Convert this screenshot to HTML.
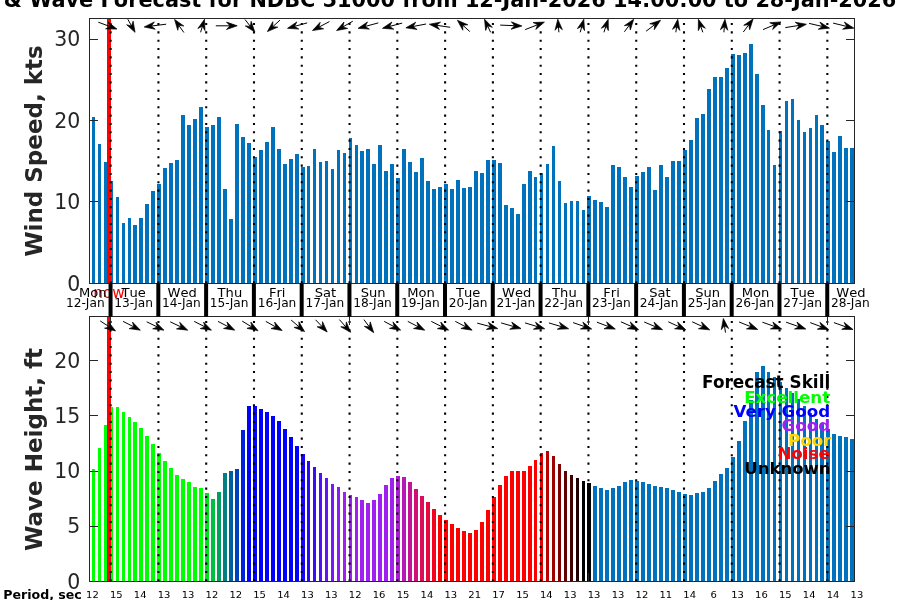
<!DOCTYPE html>
<html lang="en"><head><meta charset="utf-8"><title>Wind &amp; Wave Forecast for NDBC 51000</title>
<style>html,body{margin:0;padding:0;background:#fff;overflow:hidden}svg{display:block}text{font-family:"DejaVu Sans","Liberation Sans",sans-serif}.b{font-weight:bold}.tk{font-size:20.5px;fill:#262626;text-anchor:end}.dl{fill:#000;text-anchor:middle;font-kerning:none}.pd{font-size:10px;fill:#000;text-anchor:middle}.lg{font-size:16.7px;font-weight:bold;text-anchor:end}</style></head><body>
<svg width="900" height="600" viewBox="0 0 900 600">
<rect width="900" height="600" fill="#fff"/>
<defs><clipPath id="c1"><rect x="90" y="19" width="764" height="264"/></clipPath><clipPath id="c2"><rect x="90" y="317" width="764" height="264"/></clipPath></defs>
<text class="b" x="471.9" y="7.4" font-size="20.83" text-anchor="middle" fill="#000">Wind &amp; Wave Forecast for NDBC 51000 from 12-Jan-2026 14:00:00 to 28-Jan-2026 14:00:00</text>
<g shape-rendering="crispEdges" clip-path="url(#c1)">
<rect x="92" y="117" width="3" height="166" fill="#0072BD"/>
<rect x="98" y="144" width="3" height="139" fill="#0072BD"/>
<rect x="104" y="162" width="3" height="121" fill="#0072BD"/>
<rect x="110" y="181" width="3" height="102" fill="#0072BD"/>
<rect x="116" y="197" width="3" height="86" fill="#0072BD"/>
<rect x="122" y="223" width="3" height="60" fill="#0072BD"/>
<rect x="128" y="218" width="3" height="65" fill="#0072BD"/>
<rect x="133" y="225" width="4" height="58" fill="#0072BD"/>
<rect x="139" y="218" width="4" height="65" fill="#0072BD"/>
<rect x="145" y="204" width="4" height="79" fill="#0072BD"/>
<rect x="151" y="191" width="4" height="92" fill="#0072BD"/>
<rect x="157" y="184" width="4" height="99" fill="#0072BD"/>
<rect x="163" y="168" width="4" height="115" fill="#0072BD"/>
<rect x="169" y="163" width="4" height="120" fill="#0072BD"/>
<rect x="175" y="160" width="4" height="123" fill="#0072BD"/>
<rect x="181" y="115" width="4" height="168" fill="#0072BD"/>
<rect x="187" y="125" width="4" height="158" fill="#0072BD"/>
<rect x="193" y="119" width="4" height="164" fill="#0072BD"/>
<rect x="199" y="107" width="4" height="176" fill="#0072BD"/>
<rect x="205" y="127" width="4" height="156" fill="#0072BD"/>
<rect x="211" y="125" width="4" height="158" fill="#0072BD"/>
<rect x="217" y="117" width="4" height="166" fill="#0072BD"/>
<rect x="223" y="189" width="4" height="94" fill="#0072BD"/>
<rect x="229" y="219" width="4" height="64" fill="#0072BD"/>
<rect x="235" y="124" width="4" height="159" fill="#0072BD"/>
<rect x="241" y="137" width="4" height="146" fill="#0072BD"/>
<rect x="247" y="143" width="4" height="140" fill="#0072BD"/>
<rect x="253" y="157" width="4" height="126" fill="#0072BD"/>
<rect x="259" y="150" width="4" height="133" fill="#0072BD"/>
<rect x="265" y="142" width="4" height="141" fill="#0072BD"/>
<rect x="271" y="127" width="4" height="156" fill="#0072BD"/>
<rect x="277" y="149" width="4" height="134" fill="#0072BD"/>
<rect x="283" y="164" width="4" height="119" fill="#0072BD"/>
<rect x="289" y="159" width="4" height="124" fill="#0072BD"/>
<rect x="295" y="154" width="4" height="129" fill="#0072BD"/>
<rect x="301" y="167" width="4" height="116" fill="#0072BD"/>
<rect x="307" y="166" width="3" height="117" fill="#0072BD"/>
<rect x="313" y="149" width="3" height="134" fill="#0072BD"/>
<rect x="319" y="162" width="3" height="121" fill="#0072BD"/>
<rect x="325" y="161" width="3" height="122" fill="#0072BD"/>
<rect x="331" y="169" width="3" height="114" fill="#0072BD"/>
<rect x="337" y="150" width="3" height="133" fill="#0072BD"/>
<rect x="343" y="153" width="3" height="130" fill="#0072BD"/>
<rect x="349" y="138" width="3" height="145" fill="#0072BD"/>
<rect x="355" y="145" width="3" height="138" fill="#0072BD"/>
<rect x="360" y="151" width="4" height="132" fill="#0072BD"/>
<rect x="366" y="149" width="4" height="134" fill="#0072BD"/>
<rect x="372" y="164" width="4" height="119" fill="#0072BD"/>
<rect x="378" y="145" width="4" height="138" fill="#0072BD"/>
<rect x="384" y="171" width="4" height="112" fill="#0072BD"/>
<rect x="390" y="164" width="4" height="119" fill="#0072BD"/>
<rect x="396" y="178" width="4" height="105" fill="#0072BD"/>
<rect x="402" y="149" width="4" height="134" fill="#0072BD"/>
<rect x="408" y="162" width="4" height="121" fill="#0072BD"/>
<rect x="414" y="172" width="4" height="111" fill="#0072BD"/>
<rect x="420" y="158" width="4" height="125" fill="#0072BD"/>
<rect x="426" y="181" width="4" height="102" fill="#0072BD"/>
<rect x="432" y="189" width="4" height="94" fill="#0072BD"/>
<rect x="438" y="187" width="4" height="96" fill="#0072BD"/>
<rect x="444" y="184" width="4" height="99" fill="#0072BD"/>
<rect x="450" y="189" width="4" height="94" fill="#0072BD"/>
<rect x="456" y="180" width="4" height="103" fill="#0072BD"/>
<rect x="462" y="188" width="4" height="95" fill="#0072BD"/>
<rect x="468" y="187" width="4" height="96" fill="#0072BD"/>
<rect x="474" y="171" width="4" height="112" fill="#0072BD"/>
<rect x="480" y="173" width="4" height="110" fill="#0072BD"/>
<rect x="486" y="160" width="4" height="123" fill="#0072BD"/>
<rect x="492" y="160" width="4" height="123" fill="#0072BD"/>
<rect x="498" y="163" width="4" height="120" fill="#0072BD"/>
<rect x="504" y="205" width="4" height="78" fill="#0072BD"/>
<rect x="510" y="208" width="4" height="75" fill="#0072BD"/>
<rect x="516" y="214" width="4" height="69" fill="#0072BD"/>
<rect x="522" y="184" width="4" height="99" fill="#0072BD"/>
<rect x="528" y="171" width="4" height="112" fill="#0072BD"/>
<rect x="534" y="177" width="3" height="106" fill="#0072BD"/>
<rect x="540" y="173" width="3" height="110" fill="#0072BD"/>
<rect x="546" y="164" width="3" height="119" fill="#0072BD"/>
<rect x="552" y="146" width="3" height="137" fill="#0072BD"/>
<rect x="558" y="181" width="3" height="102" fill="#0072BD"/>
<rect x="564" y="203" width="3" height="80" fill="#0072BD"/>
<rect x="570" y="201" width="3" height="82" fill="#0072BD"/>
<rect x="576" y="201" width="3" height="82" fill="#0072BD"/>
<rect x="582" y="210" width="3" height="73" fill="#0072BD"/>
<rect x="587" y="196" width="4" height="87" fill="#0072BD"/>
<rect x="593" y="200" width="4" height="83" fill="#0072BD"/>
<rect x="599" y="202" width="4" height="81" fill="#0072BD"/>
<rect x="605" y="207" width="4" height="76" fill="#0072BD"/>
<rect x="611" y="165" width="4" height="118" fill="#0072BD"/>
<rect x="617" y="167" width="4" height="116" fill="#0072BD"/>
<rect x="623" y="177" width="4" height="106" fill="#0072BD"/>
<rect x="629" y="187" width="4" height="96" fill="#0072BD"/>
<rect x="635" y="176" width="4" height="107" fill="#0072BD"/>
<rect x="641" y="172" width="4" height="111" fill="#0072BD"/>
<rect x="647" y="167" width="4" height="116" fill="#0072BD"/>
<rect x="653" y="190" width="4" height="93" fill="#0072BD"/>
<rect x="659" y="165" width="4" height="118" fill="#0072BD"/>
<rect x="665" y="177" width="4" height="106" fill="#0072BD"/>
<rect x="671" y="161" width="4" height="122" fill="#0072BD"/>
<rect x="677" y="161" width="4" height="122" fill="#0072BD"/>
<rect x="683" y="150" width="4" height="133" fill="#0072BD"/>
<rect x="689" y="140" width="4" height="143" fill="#0072BD"/>
<rect x="695" y="118" width="4" height="165" fill="#0072BD"/>
<rect x="701" y="114" width="4" height="169" fill="#0072BD"/>
<rect x="707" y="89" width="4" height="194" fill="#0072BD"/>
<rect x="713" y="77" width="4" height="206" fill="#0072BD"/>
<rect x="719" y="77" width="4" height="206" fill="#0072BD"/>
<rect x="725" y="68" width="4" height="215" fill="#0072BD"/>
<rect x="731" y="54" width="4" height="229" fill="#0072BD"/>
<rect x="737" y="55" width="4" height="228" fill="#0072BD"/>
<rect x="743" y="53" width="4" height="230" fill="#0072BD"/>
<rect x="749" y="44" width="4" height="239" fill="#0072BD"/>
<rect x="755" y="74" width="4" height="209" fill="#0072BD"/>
<rect x="761" y="105" width="4" height="178" fill="#0072BD"/>
<rect x="767" y="130" width="3" height="153" fill="#0072BD"/>
<rect x="773" y="165" width="3" height="118" fill="#0072BD"/>
<rect x="779" y="131" width="3" height="152" fill="#0072BD"/>
<rect x="785" y="101" width="3" height="182" fill="#0072BD"/>
<rect x="791" y="99" width="3" height="184" fill="#0072BD"/>
<rect x="797" y="120" width="3" height="163" fill="#0072BD"/>
<rect x="803" y="132" width="3" height="151" fill="#0072BD"/>
<rect x="809" y="128" width="3" height="155" fill="#0072BD"/>
<rect x="815" y="115" width="3" height="168" fill="#0072BD"/>
<rect x="820" y="125" width="4" height="158" fill="#0072BD"/>
<rect x="826" y="141" width="4" height="142" fill="#0072BD"/>
<rect x="832" y="152" width="4" height="131" fill="#0072BD"/>
<rect x="838" y="136" width="4" height="147" fill="#0072BD"/>
<rect x="844" y="148" width="4" height="135" fill="#0072BD"/>
<rect x="850" y="148" width="4" height="135" fill="#0072BD"/>
</g>
<g clip-path="url(#c1)">
<rect x="107" y="19" width="4" height="264" fill="#f00" shape-rendering="crispEdges"/>
<line x1="110.65" y1="283.30" x2="110.65" y2="9.00" stroke="#000" stroke-width="2.08" stroke-dasharray="2.08 6.25"/>
<line x1="158.43" y1="283.30" x2="158.43" y2="9.00" stroke="#000" stroke-width="2.08" stroke-dasharray="2.08 6.25"/>
<line x1="206.21" y1="283.30" x2="206.21" y2="9.00" stroke="#000" stroke-width="2.08" stroke-dasharray="2.08 6.25"/>
<line x1="253.99" y1="283.30" x2="253.99" y2="9.00" stroke="#000" stroke-width="2.08" stroke-dasharray="2.08 6.25"/>
<line x1="301.77" y1="283.30" x2="301.77" y2="9.00" stroke="#000" stroke-width="2.08" stroke-dasharray="2.08 6.25"/>
<line x1="349.55" y1="283.30" x2="349.55" y2="9.00" stroke="#000" stroke-width="2.08" stroke-dasharray="2.08 6.25"/>
<line x1="397.33" y1="283.30" x2="397.33" y2="9.00" stroke="#000" stroke-width="2.08" stroke-dasharray="2.08 6.25"/>
<line x1="445.11" y1="283.30" x2="445.11" y2="9.00" stroke="#000" stroke-width="2.08" stroke-dasharray="2.08 6.25"/>
<line x1="492.89" y1="283.30" x2="492.89" y2="9.00" stroke="#000" stroke-width="2.08" stroke-dasharray="2.08 6.25"/>
<line x1="540.67" y1="283.30" x2="540.67" y2="9.00" stroke="#000" stroke-width="2.08" stroke-dasharray="2.08 6.25"/>
<line x1="588.45" y1="283.30" x2="588.45" y2="9.00" stroke="#000" stroke-width="2.08" stroke-dasharray="2.08 6.25"/>
<line x1="636.23" y1="283.30" x2="636.23" y2="9.00" stroke="#000" stroke-width="2.08" stroke-dasharray="2.08 6.25"/>
<line x1="684.01" y1="283.30" x2="684.01" y2="9.00" stroke="#000" stroke-width="2.08" stroke-dasharray="2.08 6.25"/>
<line x1="731.79" y1="283.30" x2="731.79" y2="9.00" stroke="#000" stroke-width="2.08" stroke-dasharray="2.08 6.25"/>
<line x1="779.57" y1="283.30" x2="779.57" y2="9.00" stroke="#000" stroke-width="2.08" stroke-dasharray="2.08 6.25"/>
<line x1="827.35" y1="283.30" x2="827.35" y2="9.00" stroke="#000" stroke-width="2.08" stroke-dasharray="2.08 6.25"/>
</g>
<g clip-path="url(#c1)">
<line x1="98.30" y1="22.20" x2="110.17" y2="26.60" stroke="#000" stroke-width="1.00"/><polygon points="116.92,29.10 105.60,28.85 110.17,26.60 108.17,21.91" fill="#000" stroke="#000" stroke-width="0.7" stroke-linejoin="round"/>
<line x1="127.80" y1="19.20" x2="131.57" y2="26.03" stroke="#000" stroke-width="1.00"/><polygon points="135.05,32.34 126.64,24.76 131.57,26.03 133.12,21.18" fill="#000" stroke="#000" stroke-width="0.7" stroke-linejoin="round"/>
<line x1="166.10" y1="24.20" x2="151.34" y2="26.06" stroke="#000" stroke-width="1.00"/><polygon points="144.20,26.96 154.35,21.95 151.34,26.06 155.28,29.29" fill="#000" stroke="#000" stroke-width="0.7" stroke-linejoin="round"/>
<line x1="183.90" y1="32.50" x2="178.76" y2="25.30" stroke="#000" stroke-width="1.00"/><polygon points="174.57,19.44 183.80,26.00 178.76,25.30 177.78,30.30" fill="#000" stroke="#000" stroke-width="0.7" stroke-linejoin="round"/>
<line x1="200.60" y1="32.30" x2="202.44" y2="26.18" stroke="#000" stroke-width="1.00"/><polygon points="204.51,19.29 204.98,30.60 202.44,26.18 197.89,28.47" fill="#000" stroke="#000" stroke-width="0.7" stroke-linejoin="round"/>
<line x1="215.80" y1="25.80" x2="230.00" y2="25.80" stroke="#000" stroke-width="1.00"/><polygon points="237.20,25.80 226.50,29.50 230.00,25.80 226.50,22.10" fill="#000" stroke="#000" stroke-width="0.7" stroke-linejoin="round"/>
<line x1="245.00" y1="19.50" x2="250.38" y2="26.39" stroke="#000" stroke-width="1.00"/><polygon points="254.82,32.06 245.31,25.91 250.38,26.39 251.14,21.35" fill="#000" stroke="#000" stroke-width="0.7" stroke-linejoin="round"/>
<line x1="280.00" y1="20.10" x2="272.74" y2="26.74" stroke="#000" stroke-width="1.00"/><polygon points="267.42,31.60 272.82,21.65 272.74,26.74 277.82,27.11" fill="#000" stroke="#000" stroke-width="0.7" stroke-linejoin="round"/>
<line x1="307.20" y1="22.90" x2="294.43" y2="26.41" stroke="#000" stroke-width="1.00"/><polygon points="287.49,28.32 296.83,21.92 294.43,26.41 298.79,29.05" fill="#000" stroke="#000" stroke-width="0.7" stroke-linejoin="round"/>
<line x1="329.40" y1="21.60" x2="318.83" y2="27.19" stroke="#000" stroke-width="1.00"/><polygon points="312.47,30.56 320.19,22.29 318.83,27.19 323.65,28.83" fill="#000" stroke="#000" stroke-width="0.7" stroke-linejoin="round"/>
<line x1="352.80" y1="21.20" x2="342.80" y2="26.96" stroke="#000" stroke-width="1.00"/><polygon points="336.56,30.55 343.99,22.00 342.80,26.96 347.68,28.42" fill="#000" stroke="#000" stroke-width="0.7" stroke-linejoin="round"/>
<line x1="378.30" y1="22.90" x2="365.04" y2="26.46" stroke="#000" stroke-width="1.00"/><polygon points="358.09,28.32 367.47,21.98 365.04,26.46 369.38,29.12" fill="#000" stroke="#000" stroke-width="0.7" stroke-linejoin="round"/>
<line x1="402.20" y1="23.10" x2="389.45" y2="26.48" stroke="#000" stroke-width="1.00"/><polygon points="382.49,28.32 391.89,22.01 389.45,26.48 393.78,29.16" fill="#000" stroke="#000" stroke-width="0.7" stroke-linejoin="round"/>
<line x1="426.10" y1="24.00" x2="412.97" y2="26.50" stroke="#000" stroke-width="1.00"/><polygon points="405.89,27.84 415.71,22.21 412.97,26.50 417.10,29.48" fill="#000" stroke="#000" stroke-width="0.7" stroke-linejoin="round"/>
<line x1="450.20" y1="27.30" x2="436.52" y2="25.29" stroke="#000" stroke-width="1.00"/><polygon points="429.40,24.24 440.52,22.14 436.52,25.29 439.45,29.46" fill="#000" stroke="#000" stroke-width="0.7" stroke-linejoin="round"/>
<line x1="469.80" y1="31.60" x2="462.74" y2="25.16" stroke="#000" stroke-width="1.00"/><polygon points="457.42,20.30 467.82,24.78 462.74,25.16 462.83,30.25" fill="#000" stroke="#000" stroke-width="0.7" stroke-linejoin="round"/>
<line x1="490.60" y1="32.30" x2="487.55" y2="25.71" stroke="#000" stroke-width="1.00"/><polygon points="484.53,19.17 492.38,27.33 487.55,25.71 485.66,30.44" fill="#000" stroke="#000" stroke-width="0.7" stroke-linejoin="round"/>
<line x1="500.20" y1="25.10" x2="514.71" y2="25.69" stroke="#000" stroke-width="1.00"/><polygon points="521.90,25.99 511.06,29.25 514.71,25.69 511.36,21.85" fill="#000" stroke="#000" stroke-width="0.7" stroke-linejoin="round"/>
<line x1="525.20" y1="29.60" x2="537.71" y2="24.72" stroke="#000" stroke-width="1.00"/><polygon points="544.42,22.11 535.79,29.44 537.71,24.72 533.11,22.55" fill="#000" stroke="#000" stroke-width="0.7" stroke-linejoin="round"/>
<line x1="558.90" y1="32.30" x2="558.42" y2="26.47" stroke="#000" stroke-width="1.00"/><polygon points="557.82,19.30 562.39,29.66 558.42,26.47 555.02,30.27" fill="#000" stroke="#000" stroke-width="0.7" stroke-linejoin="round"/>
<line x1="580.20" y1="32.30" x2="581.89" y2="26.23" stroke="#000" stroke-width="1.00"/><polygon points="583.82,19.29 584.52,30.59 581.89,26.23 577.39,28.61" fill="#000" stroke="#000" stroke-width="0.7" stroke-linejoin="round"/>
<line x1="603.90" y1="32.30" x2="605.94" y2="26.12" stroke="#000" stroke-width="1.00"/><polygon points="608.21,19.28 608.36,30.61 605.94,26.12 601.33,28.28" fill="#000" stroke="#000" stroke-width="0.7" stroke-linejoin="round"/>
<line x1="624.40" y1="31.80" x2="629.43" y2="25.02" stroke="#000" stroke-width="1.00"/><polygon points="633.72,19.24 630.32,30.04 629.43,25.02 624.37,25.63" fill="#000" stroke="#000" stroke-width="0.7" stroke-linejoin="round"/>
<line x1="646.10" y1="31.20" x2="654.81" y2="24.62" stroke="#000" stroke-width="1.00"/><polygon points="660.56,20.28 654.25,29.68 654.81,24.62 649.79,23.78" fill="#000" stroke="#000" stroke-width="0.7" stroke-linejoin="round"/>
<line x1="675.80" y1="32.30" x2="676.68" y2="26.42" stroke="#000" stroke-width="1.00"/><polygon points="677.76,19.30 679.82,30.43 676.68,26.42 672.51,29.33" fill="#000" stroke="#000" stroke-width="0.7" stroke-linejoin="round"/>
<line x1="702.80" y1="32.30" x2="700.70" y2="26.10" stroke="#000" stroke-width="1.00"/><polygon points="698.40,19.28 705.33,28.23 700.70,26.10 698.32,30.61" fill="#000" stroke="#000" stroke-width="0.7" stroke-linejoin="round"/>
<line x1="723.90" y1="32.30" x2="724.38" y2="26.47" stroke="#000" stroke-width="1.00"/><polygon points="724.98,19.30 727.78,30.27 724.38,26.47 720.41,29.66" fill="#000" stroke="#000" stroke-width="0.7" stroke-linejoin="round"/>
<line x1="743.30" y1="32.00" x2="748.79" y2="24.69" stroke="#000" stroke-width="1.00"/><polygon points="753.12,18.94 749.65,29.72 748.79,24.69 743.73,25.27" fill="#000" stroke="#000" stroke-width="0.7" stroke-linejoin="round"/>
<line x1="763.10" y1="29.60" x2="774.41" y2="24.75" stroke="#000" stroke-width="1.00"/><polygon points="781.02,21.92 772.65,29.53 774.41,24.75 769.73,22.73" fill="#000" stroke="#000" stroke-width="0.7" stroke-linejoin="round"/>
<line x1="785.30" y1="27.60" x2="799.29" y2="25.38" stroke="#000" stroke-width="1.00"/><polygon points="806.40,24.25 796.42,29.58 799.29,25.38 795.26,22.27" fill="#000" stroke="#000" stroke-width="0.7" stroke-linejoin="round"/>
<line x1="809.10" y1="23.40" x2="822.49" y2="26.51" stroke="#000" stroke-width="1.00"/><polygon points="829.51,28.13 818.25,29.32 822.49,26.51 819.92,22.11" fill="#000" stroke="#000" stroke-width="0.7" stroke-linejoin="round"/>
<line x1="833.10" y1="23.10" x2="846.91" y2="26.44" stroke="#000" stroke-width="1.00"/><polygon points="853.91,28.13 842.64,29.21 846.91,26.44 844.38,22.02" fill="#000" stroke="#000" stroke-width="0.7" stroke-linejoin="round"/>
</g>
<g shape-rendering="crispEdges" fill="#262626">
<rect x="89" y="18" width="766" height="1"/>
<rect x="89" y="283" width="766" height="1"/>
<rect x="89" y="18" width="1" height="266"/>
<rect x="854" y="18" width="1" height="266"/>
<rect x="90" y="39" width="8" height="1"/>
<rect x="846" y="39" width="8" height="1"/>
<rect x="90" y="120" width="8" height="1"/>
<rect x="846" y="120" width="8" height="1"/>
<rect x="90" y="201" width="8" height="1"/>
<rect x="846" y="201" width="8" height="1"/>
</g>
<text class="tk" x="80.30" y="46.05">30</text>
<text class="tk" x="80.30" y="128.05">20</text>
<text class="tk" x="80.30" y="209.05">10</text>
<text class="tk" x="80.30" y="291.05">0</text>
<g shape-rendering="crispEdges" clip-path="url(#c2)">
<rect x="92" y="469" width="3" height="112" fill="#00ff00"/>
<rect x="98" y="448" width="3" height="133" fill="#00ff00"/>
<rect x="104" y="425" width="3" height="156" fill="#00ff00"/>
<rect x="110" y="407" width="3" height="174" fill="#00ff00"/>
<rect x="116" y="407" width="3" height="174" fill="#00ff00"/>
<rect x="122" y="412" width="3" height="169" fill="#00ff00"/>
<rect x="128" y="417" width="3" height="164" fill="#00ff00"/>
<rect x="133" y="422" width="4" height="159" fill="#00ff00"/>
<rect x="139" y="428" width="4" height="153" fill="#00ff00"/>
<rect x="145" y="436" width="4" height="145" fill="#00ff00"/>
<rect x="151" y="444" width="4" height="137" fill="#00ff00"/>
<rect x="157" y="453" width="4" height="128" fill="#00ff00"/>
<rect x="163" y="461" width="4" height="120" fill="#00ff00"/>
<rect x="169" y="468" width="4" height="113" fill="#00ff00"/>
<rect x="175" y="475" width="4" height="106" fill="#00ff00"/>
<rect x="181" y="479" width="4" height="102" fill="#00ff00"/>
<rect x="187" y="482" width="4" height="99" fill="#00ff00"/>
<rect x="193" y="487" width="4" height="94" fill="#00ff00"/>
<rect x="199" y="488" width="4" height="93" fill="#00ff00"/>
<rect x="205" y="493" width="4" height="88" fill="#00df20"/>
<rect x="211" y="499" width="4" height="82" fill="#00bf40"/>
<rect x="217" y="492" width="4" height="89" fill="#009f60"/>
<rect x="223" y="473" width="4" height="108" fill="#008080"/>
<rect x="229" y="471" width="4" height="110" fill="#00609f"/>
<rect x="235" y="469" width="4" height="112" fill="#0040bf"/>
<rect x="241" y="430" width="4" height="151" fill="#0020df"/>
<rect x="247" y="406" width="4" height="175" fill="#0000ff"/>
<rect x="253" y="406" width="4" height="175" fill="#0000ff"/>
<rect x="259" y="409" width="4" height="172" fill="#0000ff"/>
<rect x="265" y="412" width="4" height="169" fill="#0000ff"/>
<rect x="271" y="416" width="4" height="165" fill="#0000ff"/>
<rect x="277" y="421" width="4" height="160" fill="#0000ff"/>
<rect x="283" y="429" width="4" height="152" fill="#0000ff"/>
<rect x="289" y="437" width="4" height="144" fill="#0000ff"/>
<rect x="295" y="446" width="4" height="135" fill="#0000ff"/>
<rect x="301" y="454" width="4" height="127" fill="#1404fd"/>
<rect x="307" y="461" width="3" height="120" fill="#2808fb"/>
<rect x="313" y="467" width="3" height="114" fill="#3c0cf9"/>
<rect x="319" y="473" width="3" height="108" fill="#5010f8"/>
<rect x="325" y="478" width="3" height="103" fill="#6414f6"/>
<rect x="331" y="484" width="3" height="97" fill="#7818f4"/>
<rect x="337" y="487" width="3" height="94" fill="#8c1cf2"/>
<rect x="343" y="492" width="3" height="89" fill="#a020f0"/>
<rect x="349" y="495" width="3" height="86" fill="#a020f0"/>
<rect x="355" y="497" width="3" height="84" fill="#a020f0"/>
<rect x="360" y="500" width="4" height="81" fill="#a020f0"/>
<rect x="366" y="503" width="4" height="78" fill="#a020f0"/>
<rect x="372" y="500" width="4" height="81" fill="#a020f0"/>
<rect x="378" y="494" width="4" height="87" fill="#a020f0"/>
<rect x="384" y="485" width="4" height="96" fill="#a020f0"/>
<rect x="390" y="478" width="4" height="103" fill="#a020f0"/>
<rect x="396" y="476" width="4" height="105" fill="#ac1cd2"/>
<rect x="402" y="477" width="4" height="104" fill="#b818b4"/>
<rect x="408" y="482" width="4" height="99" fill="#c41496"/>
<rect x="414" y="489" width="4" height="92" fill="#d01078"/>
<rect x="420" y="496" width="4" height="85" fill="#db0c5a"/>
<rect x="426" y="502" width="4" height="79" fill="#e7083c"/>
<rect x="432" y="509" width="4" height="72" fill="#f3041e"/>
<rect x="438" y="515" width="4" height="66" fill="#ff0000"/>
<rect x="444" y="520" width="4" height="61" fill="#ff0000"/>
<rect x="450" y="524" width="4" height="57" fill="#ff0000"/>
<rect x="456" y="528" width="4" height="53" fill="#ff0000"/>
<rect x="462" y="531" width="4" height="50" fill="#ff0000"/>
<rect x="468" y="533" width="4" height="48" fill="#ff0000"/>
<rect x="474" y="530" width="4" height="51" fill="#ff0000"/>
<rect x="480" y="522" width="4" height="59" fill="#ff0000"/>
<rect x="486" y="510" width="4" height="71" fill="#ff0000"/>
<rect x="492" y="497" width="4" height="84" fill="#ff0000"/>
<rect x="498" y="485" width="4" height="96" fill="#ff0000"/>
<rect x="504" y="476" width="4" height="105" fill="#ff0000"/>
<rect x="510" y="471" width="4" height="110" fill="#ff0000"/>
<rect x="516" y="471" width="4" height="110" fill="#ff0000"/>
<rect x="522" y="471" width="4" height="110" fill="#ff0000"/>
<rect x="528" y="466" width="4" height="115" fill="#ff0000"/>
<rect x="534" y="460" width="3" height="121" fill="#ff0000"/>
<rect x="540" y="453" width="3" height="128" fill="#df0000"/>
<rect x="546" y="451" width="3" height="130" fill="#bf0000"/>
<rect x="552" y="456" width="3" height="125" fill="#9f0000"/>
<rect x="558" y="464" width="3" height="117" fill="#800000"/>
<rect x="564" y="471" width="3" height="110" fill="#600000"/>
<rect x="570" y="475" width="3" height="106" fill="#400000"/>
<rect x="576" y="478" width="3" height="103" fill="#200000"/>
<rect x="582" y="481" width="3" height="100" fill="#000000"/>
<rect x="587" y="483" width="4" height="98" fill="#000000"/>
<rect x="593" y="486" width="4" height="95" fill="#0072BD"/>
<rect x="599" y="488" width="4" height="93" fill="#0072BD"/>
<rect x="605" y="490" width="4" height="91" fill="#0072BD"/>
<rect x="611" y="488" width="4" height="93" fill="#0072BD"/>
<rect x="617" y="486" width="4" height="95" fill="#0072BD"/>
<rect x="623" y="482" width="4" height="99" fill="#0072BD"/>
<rect x="629" y="480" width="4" height="101" fill="#0072BD"/>
<rect x="635" y="481" width="4" height="100" fill="#0072BD"/>
<rect x="641" y="482" width="4" height="99" fill="#0072BD"/>
<rect x="647" y="484" width="4" height="97" fill="#0072BD"/>
<rect x="653" y="486" width="4" height="95" fill="#0072BD"/>
<rect x="659" y="487" width="4" height="94" fill="#0072BD"/>
<rect x="665" y="488" width="4" height="93" fill="#0072BD"/>
<rect x="671" y="490" width="4" height="91" fill="#0072BD"/>
<rect x="677" y="492" width="4" height="89" fill="#0072BD"/>
<rect x="683" y="494" width="4" height="87" fill="#0072BD"/>
<rect x="689" y="495" width="4" height="86" fill="#0072BD"/>
<rect x="695" y="493" width="4" height="88" fill="#0072BD"/>
<rect x="701" y="492" width="4" height="89" fill="#0072BD"/>
<rect x="707" y="488" width="4" height="93" fill="#0072BD"/>
<rect x="713" y="481" width="4" height="100" fill="#0072BD"/>
<rect x="719" y="474" width="4" height="107" fill="#0072BD"/>
<rect x="725" y="468" width="4" height="113" fill="#0072BD"/>
<rect x="731" y="457" width="4" height="124" fill="#0072BD"/>
<rect x="737" y="441" width="4" height="140" fill="#0072BD"/>
<rect x="743" y="421" width="4" height="160" fill="#0072BD"/>
<rect x="749" y="400" width="4" height="181" fill="#0072BD"/>
<rect x="755" y="372" width="4" height="209" fill="#0072BD"/>
<rect x="761" y="366" width="4" height="215" fill="#0072BD"/>
<rect x="767" y="372" width="3" height="209" fill="#0072BD"/>
<rect x="773" y="377" width="3" height="204" fill="#0072BD"/>
<rect x="779" y="382" width="3" height="199" fill="#0072BD"/>
<rect x="785" y="388" width="3" height="193" fill="#0072BD"/>
<rect x="791" y="393" width="3" height="188" fill="#0072BD"/>
<rect x="797" y="399" width="3" height="182" fill="#0072BD"/>
<rect x="803" y="406" width="3" height="175" fill="#0072BD"/>
<rect x="809" y="413" width="3" height="168" fill="#0072BD"/>
<rect x="815" y="419" width="3" height="162" fill="#0072BD"/>
<rect x="820" y="424" width="4" height="157" fill="#0072BD"/>
<rect x="826" y="429" width="4" height="152" fill="#0072BD"/>
<rect x="832" y="434" width="4" height="147" fill="#0072BD"/>
<rect x="838" y="436" width="4" height="145" fill="#0072BD"/>
<rect x="844" y="437" width="4" height="144" fill="#0072BD"/>
<rect x="850" y="439" width="4" height="142" fill="#0072BD"/>
</g>
<g clip-path="url(#c2)">
<rect x="107" y="317" width="4" height="264" fill="#f00" shape-rendering="crispEdges"/>
<line x1="110.65" y1="581.30" x2="110.65" y2="307.00" stroke="#000" stroke-width="2.08" stroke-dasharray="2.08 6.25"/>
<line x1="158.43" y1="581.30" x2="158.43" y2="307.00" stroke="#000" stroke-width="2.08" stroke-dasharray="2.08 6.25"/>
<line x1="206.21" y1="581.30" x2="206.21" y2="307.00" stroke="#000" stroke-width="2.08" stroke-dasharray="2.08 6.25"/>
<line x1="253.99" y1="581.30" x2="253.99" y2="307.00" stroke="#000" stroke-width="2.08" stroke-dasharray="2.08 6.25"/>
<line x1="301.77" y1="581.30" x2="301.77" y2="307.00" stroke="#000" stroke-width="2.08" stroke-dasharray="2.08 6.25"/>
<line x1="349.55" y1="581.30" x2="349.55" y2="307.00" stroke="#000" stroke-width="2.08" stroke-dasharray="2.08 6.25"/>
<line x1="397.33" y1="581.30" x2="397.33" y2="307.00" stroke="#000" stroke-width="2.08" stroke-dasharray="2.08 6.25"/>
<line x1="445.11" y1="581.30" x2="445.11" y2="307.00" stroke="#000" stroke-width="2.08" stroke-dasharray="2.08 6.25"/>
<line x1="492.89" y1="581.30" x2="492.89" y2="307.00" stroke="#000" stroke-width="2.08" stroke-dasharray="2.08 6.25"/>
<line x1="540.67" y1="581.30" x2="540.67" y2="307.00" stroke="#000" stroke-width="2.08" stroke-dasharray="2.08 6.25"/>
<line x1="588.45" y1="581.30" x2="588.45" y2="307.00" stroke="#000" stroke-width="2.08" stroke-dasharray="2.08 6.25"/>
<line x1="636.23" y1="581.30" x2="636.23" y2="307.00" stroke="#000" stroke-width="2.08" stroke-dasharray="2.08 6.25"/>
<line x1="684.01" y1="581.30" x2="684.01" y2="307.00" stroke="#000" stroke-width="2.08" stroke-dasharray="2.08 6.25"/>
<line x1="731.79" y1="581.30" x2="731.79" y2="307.00" stroke="#000" stroke-width="2.08" stroke-dasharray="2.08 6.25"/>
<line x1="779.57" y1="581.30" x2="779.57" y2="307.00" stroke="#000" stroke-width="2.08" stroke-dasharray="2.08 6.25"/>
<line x1="827.35" y1="581.30" x2="827.35" y2="307.00" stroke="#000" stroke-width="2.08" stroke-dasharray="2.08 6.25"/>
</g>
<g shape-rendering="crispEdges" fill="#262626">
<rect x="110" y="317" width="1" height="8"/>
<rect x="110" y="573" width="1" height="8"/>
<rect x="349" y="317" width="1" height="8"/>
<rect x="349" y="573" width="1" height="8"/>
<rect x="588" y="317" width="1" height="8"/>
<rect x="588" y="573" width="1" height="8"/>
<rect x="827" y="317" width="1" height="8"/>
<rect x="827" y="573" width="1" height="8"/>
</g>
<g clip-path="url(#c2)">
<line x1="100.20" y1="320.90" x2="109.52" y2="327.00" stroke="#000" stroke-width="1.00"/><polygon points="115.55,330.94 104.57,328.18 109.52,327.00 108.62,321.98" fill="#000" stroke="#000" stroke-width="0.7" stroke-linejoin="round"/>
<line x1="123.10" y1="321.40" x2="133.91" y2="326.90" stroke="#000" stroke-width="1.00"/><polygon points="140.33,330.16 129.12,328.61 133.91,326.90 132.47,322.02" fill="#000" stroke="#000" stroke-width="0.7" stroke-linejoin="round"/>
<line x1="146.70" y1="321.80" x2="157.45" y2="327.02" stroke="#000" stroke-width="1.00"/><polygon points="163.93,330.17 152.69,328.82 157.45,327.02 155.92,322.17" fill="#000" stroke="#000" stroke-width="0.7" stroke-linejoin="round"/>
<line x1="170.20" y1="321.80" x2="181.23" y2="327.07" stroke="#000" stroke-width="1.00"/><polygon points="187.73,330.17 176.48,328.90 181.23,327.07 179.67,322.22" fill="#000" stroke="#000" stroke-width="0.7" stroke-linejoin="round"/>
<line x1="194.20" y1="321.40" x2="205.01" y2="326.90" stroke="#000" stroke-width="1.00"/><polygon points="211.43,330.16 200.22,328.61 205.01,326.90 203.57,322.02" fill="#000" stroke="#000" stroke-width="0.7" stroke-linejoin="round"/>
<line x1="218.00" y1="321.40" x2="228.36" y2="326.82" stroke="#000" stroke-width="1.00"/><polygon points="234.73,330.16 223.54,328.48 228.36,326.82 226.97,321.92" fill="#000" stroke="#000" stroke-width="0.7" stroke-linejoin="round"/>
<line x1="242.20" y1="321.10" x2="251.89" y2="327.00" stroke="#000" stroke-width="1.00"/><polygon points="258.04,330.74 246.98,328.34 251.89,327.00 250.83,322.02" fill="#000" stroke="#000" stroke-width="0.7" stroke-linejoin="round"/>
<line x1="265.80" y1="321.40" x2="275.86" y2="327.03" stroke="#000" stroke-width="1.00"/><polygon points="282.14,330.55 270.99,328.55 275.86,327.03 274.61,322.10" fill="#000" stroke="#000" stroke-width="0.7" stroke-linejoin="round"/>
<line x1="291.10" y1="320.00" x2="299.12" y2="326.91" stroke="#000" stroke-width="1.00"/><polygon points="304.57,331.60 294.05,327.42 299.12,326.91 298.88,321.82" fill="#000" stroke="#000" stroke-width="0.7" stroke-linejoin="round"/>
<line x1="315.60" y1="319.80" x2="322.23" y2="326.77" stroke="#000" stroke-width="1.00"/><polygon points="327.19,331.98 317.14,326.78 322.23,326.77 322.50,321.68" fill="#000" stroke="#000" stroke-width="0.7" stroke-linejoin="round"/>
<line x1="339.40" y1="319.60" x2="345.86" y2="326.96" stroke="#000" stroke-width="1.00"/><polygon points="350.60,332.37 340.77,326.77 345.86,326.96 346.33,321.89" fill="#000" stroke="#000" stroke-width="0.7" stroke-linejoin="round"/>
<line x1="363.90" y1="319.60" x2="369.39" y2="326.91" stroke="#000" stroke-width="1.00"/><polygon points="373.72,332.66 364.33,326.33 369.39,326.91 370.25,321.88" fill="#000" stroke="#000" stroke-width="0.7" stroke-linejoin="round"/>
<line x1="384.20" y1="321.40" x2="394.28" y2="326.77" stroke="#000" stroke-width="1.00"/><polygon points="400.64,330.16 389.45,328.39 394.28,326.77 392.93,321.86" fill="#000" stroke="#000" stroke-width="0.7" stroke-linejoin="round"/>
<line x1="407.80" y1="321.40" x2="418.34" y2="326.85" stroke="#000" stroke-width="1.00"/><polygon points="424.73,330.16 413.53,328.53 418.34,326.85 416.93,321.96" fill="#000" stroke="#000" stroke-width="0.7" stroke-linejoin="round"/>
<line x1="431.30" y1="321.40" x2="442.21" y2="326.92" stroke="#000" stroke-width="1.00"/><polygon points="448.63,330.16 437.41,328.64 442.21,326.92 440.75,322.03" fill="#000" stroke="#000" stroke-width="0.7" stroke-linejoin="round"/>
<line x1="455.30" y1="321.40" x2="465.75" y2="326.84" stroke="#000" stroke-width="1.00"/><polygon points="472.13,330.16 460.93,328.50 465.75,326.84 464.35,321.94" fill="#000" stroke="#000" stroke-width="0.7" stroke-linejoin="round"/>
<line x1="477.20" y1="323.10" x2="490.76" y2="326.75" stroke="#000" stroke-width="1.00"/><polygon points="497.71,328.62 486.42,329.41 490.76,326.75 488.34,322.27" fill="#000" stroke="#000" stroke-width="0.7" stroke-linejoin="round"/>
<line x1="501.10" y1="322.90" x2="514.09" y2="326.63" stroke="#000" stroke-width="1.00"/><polygon points="521.01,328.62 509.71,329.22 514.09,326.63 511.75,322.11" fill="#000" stroke="#000" stroke-width="0.7" stroke-linejoin="round"/>
<line x1="525.00" y1="322.90" x2="537.82" y2="326.74" stroke="#000" stroke-width="1.00"/><polygon points="544.71,328.81 533.40,329.28 537.82,326.74 535.53,322.20" fill="#000" stroke="#000" stroke-width="0.7" stroke-linejoin="round"/>
<line x1="548.90" y1="322.90" x2="561.72" y2="326.74" stroke="#000" stroke-width="1.00"/><polygon points="568.61,328.81 557.30,329.28 561.72,326.74 559.43,322.20" fill="#000" stroke="#000" stroke-width="0.7" stroke-linejoin="round"/>
<line x1="573.10" y1="322.60" x2="584.92" y2="326.73" stroke="#000" stroke-width="1.00"/><polygon points="591.72,329.10 580.40,329.07 584.92,326.73 582.83,322.08" fill="#000" stroke="#000" stroke-width="0.7" stroke-linejoin="round"/>
<line x1="596.90" y1="322.20" x2="608.58" y2="326.57" stroke="#000" stroke-width="1.00"/><polygon points="615.32,329.09 604.00,328.81 608.58,326.57 606.60,321.88" fill="#000" stroke="#000" stroke-width="0.7" stroke-linejoin="round"/>
<line x1="620.90" y1="321.80" x2="632.05" y2="326.75" stroke="#000" stroke-width="1.00"/><polygon points="638.63,329.68 627.35,328.71 632.05,326.75 630.35,321.95" fill="#000" stroke="#000" stroke-width="0.7" stroke-linejoin="round"/>
<line x1="644.20" y1="322.00" x2="655.88" y2="326.90" stroke="#000" stroke-width="1.00"/><polygon points="662.52,329.68 651.22,328.96 655.88,326.90 654.09,322.13" fill="#000" stroke="#000" stroke-width="0.7" stroke-linejoin="round"/>
<line x1="668.30" y1="321.80" x2="679.29" y2="326.86" stroke="#000" stroke-width="1.00"/><polygon points="685.83,329.87 674.56,328.76 679.29,326.86 677.66,322.04" fill="#000" stroke="#000" stroke-width="0.7" stroke-linejoin="round"/>
<line x1="692.20" y1="321.80" x2="703.19" y2="326.86" stroke="#000" stroke-width="1.00"/><polygon points="709.73,329.87 698.46,328.76 703.19,326.86 701.56,322.04" fill="#000" stroke="#000" stroke-width="0.7" stroke-linejoin="round"/>
<line x1="725.50" y1="332.60" x2="724.43" y2="325.61" stroke="#000" stroke-width="1.00"/><polygon points="723.35,318.50 728.62,328.52 724.43,325.61 721.30,329.63" fill="#000" stroke="#000" stroke-width="0.7" stroke-linejoin="round"/>
<line x1="739.10" y1="322.00" x2="751.04" y2="326.80" stroke="#000" stroke-width="1.00"/><polygon points="757.72,329.49 746.41,328.93 751.04,326.80 749.17,322.06" fill="#000" stroke="#000" stroke-width="0.7" stroke-linejoin="round"/>
<line x1="762.40" y1="322.20" x2="774.94" y2="326.68" stroke="#000" stroke-width="1.00"/><polygon points="781.72,329.10 770.40,328.98 774.94,326.68 772.89,322.02" fill="#000" stroke="#000" stroke-width="0.7" stroke-linejoin="round"/>
<line x1="786.10" y1="322.20" x2="799.02" y2="326.72" stroke="#000" stroke-width="1.00"/><polygon points="805.82,329.10 794.50,329.06 799.02,326.72 796.94,322.07" fill="#000" stroke="#000" stroke-width="0.7" stroke-linejoin="round"/>
<line x1="810.20" y1="322.60" x2="821.88" y2="326.97" stroke="#000" stroke-width="1.00"/><polygon points="828.62,329.49 817.30,329.21 821.88,326.97 819.90,322.28" fill="#000" stroke="#000" stroke-width="0.7" stroke-linejoin="round"/>
<line x1="833.90" y1="322.60" x2="846.25" y2="327.05" stroke="#000" stroke-width="1.00"/><polygon points="853.02,329.50 841.70,329.35 846.25,327.05 844.21,322.39" fill="#000" stroke="#000" stroke-width="0.7" stroke-linejoin="round"/>
</g>
<g shape-rendering="crispEdges" fill="#262626">
<rect x="89" y="316" width="766" height="1"/>
<rect x="89" y="581" width="766" height="1"/>
<rect x="89" y="316" width="1" height="266"/>
<rect x="854" y="316" width="1" height="266"/>
<rect x="90" y="360" width="8" height="1"/>
<rect x="846" y="360" width="8" height="1"/>
<rect x="90" y="415" width="8" height="1"/>
<rect x="846" y="415" width="8" height="1"/>
<rect x="90" y="471" width="8" height="1"/>
<rect x="846" y="471" width="8" height="1"/>
<rect x="90" y="526" width="8" height="1"/>
<rect x="846" y="526" width="8" height="1"/>
</g>
<text class="tk" x="80.30" y="368.05">20</text>
<text class="tk" x="80.30" y="423.05">15</text>
<text class="tk" x="80.30" y="478.05">10</text>
<text class="tk" x="80.30" y="533.05">5</text>
<text class="tk" x="80.30" y="589.05">0</text>
<text x="109.0" y="298.0" font-size="15.3" fill="#f00" text-anchor="middle">now</text>
<text class="dl" transform="translate(92.7,296.9) scale(0.985,0.96)" font-size="13.3">Mon</text>
<text class="dl" x="85.3" y="307.0" font-size="12.2">12-Jan</text>
<text class="dl" transform="translate(133.7,296.9) scale(0.985,0.96)" font-size="13.3">Tue</text>
<text class="dl" x="133.6" y="307.0" font-size="12.2">13-Jan</text>
<text class="dl" transform="translate(182.1,296.9) scale(0.985,0.96)" font-size="13.3">Wed</text>
<text class="dl" x="181.4" y="307.0" font-size="12.2">14-Jan</text>
<text class="dl" transform="translate(229.9,296.9) scale(0.985,0.96)" font-size="13.3">Thu</text>
<text class="dl" x="229.2" y="307.0" font-size="12.2">15-Jan</text>
<text class="dl" transform="translate(277.2,296.9) scale(0.985,0.96)" font-size="13.3">Fri</text>
<text class="dl" x="277.0" y="307.0" font-size="12.2">16-Jan</text>
<text class="dl" transform="translate(325.5,296.9) scale(0.985,0.96)" font-size="13.3">Sat</text>
<text class="dl" x="324.8" y="307.0" font-size="12.2">17-Jan</text>
<text class="dl" transform="translate(373.2,296.9) scale(0.985,0.96)" font-size="13.3">Sun</text>
<text class="dl" x="372.5" y="307.0" font-size="12.2">18-Jan</text>
<text class="dl" transform="translate(421.0,296.9) scale(0.985,0.96)" font-size="13.3">Mon</text>
<text class="dl" x="420.3" y="307.0" font-size="12.2">19-Jan</text>
<text class="dl" transform="translate(468.2,296.9) scale(0.985,0.96)" font-size="13.3">Tue</text>
<text class="dl" x="468.1" y="307.0" font-size="12.2">20-Jan</text>
<text class="dl" transform="translate(516.6,296.9) scale(0.985,0.96)" font-size="13.3">Wed</text>
<text class="dl" x="515.9" y="307.0" font-size="12.2">21-Jan</text>
<text class="dl" transform="translate(564.4,296.9) scale(0.985,0.96)" font-size="13.3">Thu</text>
<text class="dl" x="563.7" y="307.0" font-size="12.2">22-Jan</text>
<text class="dl" transform="translate(611.6,296.9) scale(0.985,0.96)" font-size="13.3">Fri</text>
<text class="dl" x="611.4" y="307.0" font-size="12.2">23-Jan</text>
<text class="dl" transform="translate(659.9,296.9) scale(0.985,0.96)" font-size="13.3">Sat</text>
<text class="dl" x="659.2" y="307.0" font-size="12.2">24-Jan</text>
<text class="dl" transform="translate(707.7,296.9) scale(0.985,0.96)" font-size="13.3">Sun</text>
<text class="dl" x="707.0" y="307.0" font-size="12.2">25-Jan</text>
<text class="dl" transform="translate(755.5,296.9) scale(0.985,0.96)" font-size="13.3">Mon</text>
<text class="dl" x="754.8" y="307.0" font-size="12.2">26-Jan</text>
<text class="dl" transform="translate(802.7,296.9) scale(0.985,0.96)" font-size="13.3">Tue</text>
<text class="dl" x="802.6" y="307.0" font-size="12.2">27-Jan</text>
<text class="dl" transform="translate(851.0,296.9) scale(0.985,0.96)" font-size="13.3">Wed</text>
<text class="dl" x="850.3" y="307.0" font-size="12.2">28-Jan</text>
<g fill="#000">
<rect x="108.55" y="283.4" width="4" height="33.2"/>
<rect x="156.33" y="283.4" width="4" height="33.2"/>
<rect x="204.11" y="283.4" width="4" height="33.2"/>
<rect x="251.89" y="283.4" width="4" height="33.2"/>
<rect x="299.67" y="283.4" width="4" height="33.2"/>
<rect x="347.45" y="283.4" width="4" height="33.2"/>
<rect x="395.23" y="283.4" width="4" height="33.2"/>
<rect x="443.01" y="283.4" width="4" height="33.2"/>
<rect x="490.79" y="283.4" width="4" height="33.2"/>
<rect x="538.57" y="283.4" width="4" height="33.2"/>
<rect x="586.35" y="283.4" width="4" height="33.2"/>
<rect x="634.13" y="283.4" width="4" height="33.2"/>
<rect x="681.91" y="283.4" width="4" height="33.2"/>
<rect x="729.69" y="283.4" width="4" height="33.2"/>
<rect x="777.47" y="283.4" width="4" height="33.2"/>
<rect x="825.25" y="283.4" width="4" height="33.2"/>
</g>
<text class="b" transform="translate(42.3,151.1) rotate(-90)" font-size="23.0" fill="#262626" text-anchor="middle">Wind Speed, kts</text>
<text class="b" transform="translate(42.3,449.5) rotate(-90)" font-size="23.0" fill="#262626" text-anchor="middle">Wave Height, ft</text>
<text class="b" x="3.2" y="599.0" font-size="12.6" fill="#000">Period, sec</text>
<text class="pd" transform="translate(92.4,598.0) scale(1,0.9)">12</text>
<text class="pd" transform="translate(116.3,598.0) scale(1,0.9)">15</text>
<text class="pd" transform="translate(140.2,598.0) scale(1,0.9)">14</text>
<text class="pd" transform="translate(164.1,598.0) scale(1,0.9)">13</text>
<text class="pd" transform="translate(188.0,598.0) scale(1,0.9)">13</text>
<text class="pd" transform="translate(211.9,598.0) scale(1,0.9)">12</text>
<text class="pd" transform="translate(235.8,598.0) scale(1,0.9)">12</text>
<text class="pd" transform="translate(259.6,598.0) scale(1,0.9)">15</text>
<text class="pd" transform="translate(283.5,598.0) scale(1,0.9)">14</text>
<text class="pd" transform="translate(307.4,598.0) scale(1,0.9)">13</text>
<text class="pd" transform="translate(331.3,598.0) scale(1,0.9)">13</text>
<text class="pd" transform="translate(355.2,598.0) scale(1,0.9)">12</text>
<text class="pd" transform="translate(379.1,598.0) scale(1,0.9)">16</text>
<text class="pd" transform="translate(403.0,598.0) scale(1,0.9)">15</text>
<text class="pd" transform="translate(426.9,598.0) scale(1,0.9)">14</text>
<text class="pd" transform="translate(450.8,598.0) scale(1,0.9)">13</text>
<text class="pd" transform="translate(474.7,598.0) scale(1,0.9)">21</text>
<text class="pd" transform="translate(498.6,598.0) scale(1,0.9)">17</text>
<text class="pd" transform="translate(522.5,598.0) scale(1,0.9)">15</text>
<text class="pd" transform="translate(546.3,598.0) scale(1,0.9)">14</text>
<text class="pd" transform="translate(570.2,598.0) scale(1,0.9)">13</text>
<text class="pd" transform="translate(594.1,598.0) scale(1,0.9)">13</text>
<text class="pd" transform="translate(618.0,598.0) scale(1,0.9)">13</text>
<text class="pd" transform="translate(641.9,598.0) scale(1,0.9)">12</text>
<text class="pd" transform="translate(665.8,598.0) scale(1,0.9)">11</text>
<text class="pd" transform="translate(689.7,598.0) scale(1,0.9)">14</text>
<text class="pd" transform="translate(713.6,598.0) scale(1,0.9)">6</text>
<text class="pd" transform="translate(737.5,598.0) scale(1,0.9)">13</text>
<text class="pd" transform="translate(761.4,598.0) scale(1,0.9)">16</text>
<text class="pd" transform="translate(785.3,598.0) scale(1,0.9)">15</text>
<text class="pd" transform="translate(809.2,598.0) scale(1,0.9)">14</text>
<text class="pd" transform="translate(833.1,598.0) scale(1,0.9)">14</text>
<text class="pd" transform="translate(856.9,598.0) scale(1,0.9)">13</text>
<text class="lg" x="830.2" y="387.9" fill="#000" style="font-size:16.85px">Forecast Skill</text>
<text class="lg" x="830.2" y="402.6" fill="#00ff00" style="font-size:16.7px">Excellent</text>
<text class="lg" x="830.2" y="416.7" fill="#0000ff" style="font-size:16.7px">Very Good</text>
<text class="lg" x="830.2" y="431.0" fill="#a020f0" style="font-size:16.7px">Good</text>
<text class="lg" x="831.5" y="446.3" fill="#ffd700" style="font-size:16.7px">Poor</text>
<text class="lg" x="829.8" y="459.4" fill="#ff0000" style="font-size:16.7px">Noise</text>
<text class="lg" x="830.5" y="473.9" fill="#000" style="font-size:16.5px">Unknown</text>
</svg></body></html>
